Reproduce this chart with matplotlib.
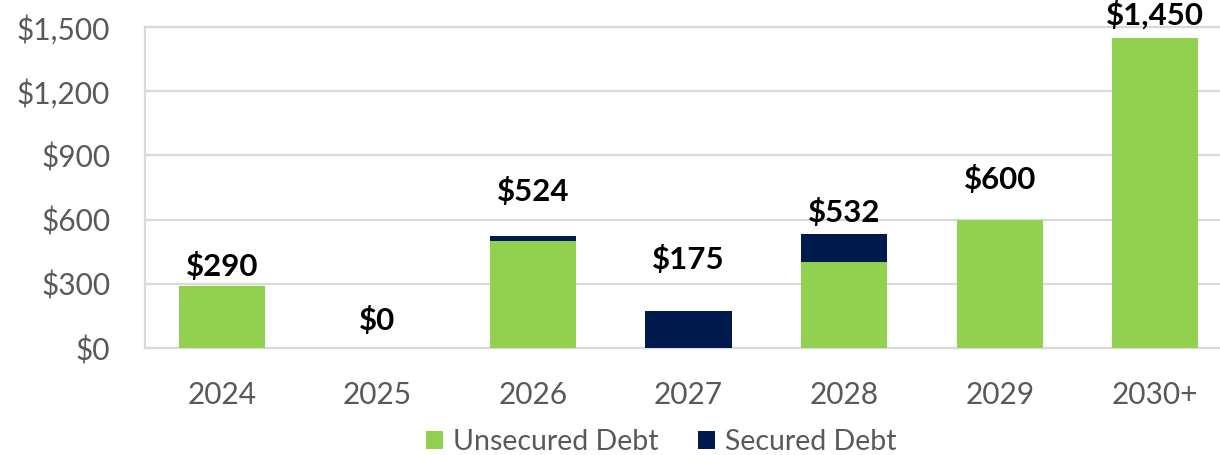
import matplotlib
matplotlib.use("Agg")
import matplotlib.pyplot as plt
import numpy as np

# debt maturities ($ millions)
years = ['2024', '2025', '2026', '2027', '2028', '2029', '2030+']
unsecured = [290, 0, 500, 0, 400, 600, 1450]
secured = [0, 0, 24, 175, 132, 0, 0]
y_ticks = [0, 300, 600, 900, 1200, 1500]

# how far each total label sits above its bar, in pixels
label_lift = [19, 28, 44, 51, 22, 40, 23]

green = '#92D050'
navy = '#001A4D'
grey_txt = '#595959'
grid_col = '#D9D9D9'

plt.rcParams['font.family'] = ['Lato', 'DejaVu Sans']

fig = plt.figure(figsize=(12.2, 4.55), dpi=100)
# plot area runs a bit past the right edge, like the original
ax = fig.add_axes([145 / 1220, 1 - 348 / 455, 1088 / 1220, 321 / 455])

x = np.arange(len(years))
totals = [u + s for u, s in zip(unsecured, secured)]
ax.bar(x, unsecured, width=0.555, color=green, label='Unsecured Debt', zorder=3)
ax.bar(x, secured, width=0.555, bottom=unsecured, color=navy, label='Secured Debt', zorder=3)

for xi, t, lift in zip(x, totals, label_lift):
    ax.annotate(f'${t:,}', (xi, t), xytext=(0, lift * 0.72), textcoords='offset points',
                ha='center', va='center', fontsize=22.5, fontweight='bold', color='black',
                annotation_clip=False)

ax.set_xlim(-0.495, 6.5)
ax.set_ylim(0, 1500)
ax.set_yticks(y_ticks)
ax.set_yticklabels([f'${v:,}' for v in y_ticks])
ax.set_xticks(x)
ax.set_xticklabels(years)

ax.grid(axis='y', color=grid_col, linewidth=1.6, zorder=0)
ax.set_axisbelow(True)
ax.spines['right'].set_visible(False)
for side in ['left', 'bottom', 'top']:
    ax.spines[side].set_color(grid_col)
    ax.spines[side].set_linewidth(1.6)

ax.tick_params(axis='both', length=0, labelsize=21.5, colors=grey_txt)
ax.tick_params(axis='x', pad=24)
ax.tick_params(axis='y', pad=25)

fig.legend(loc='center', bbox_to_anchor=(661 / 1220, 1 - 442 / 455), ncol=2, frameon=False,
           fontsize=20.5, labelcolor=grey_txt, handlelength=0.6, handleheight=0.6,
           handletextpad=0.35, columnspacing=1.4)

fig.savefig('out.png', dpi=100)
